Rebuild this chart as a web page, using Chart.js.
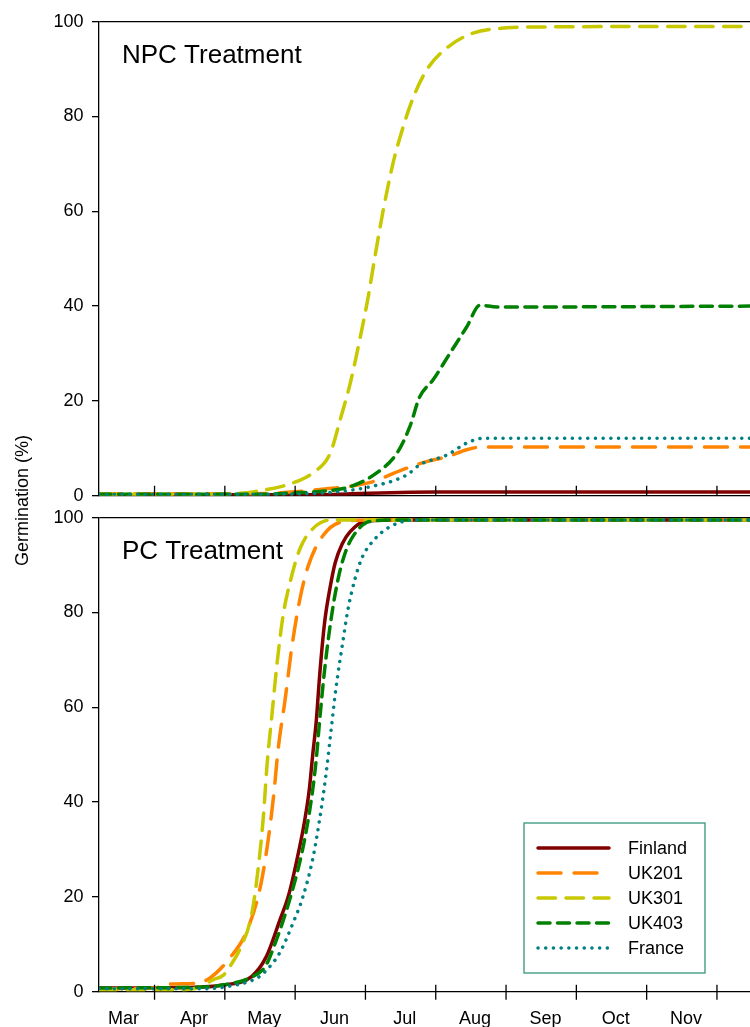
<!DOCTYPE html>
<html><head><meta charset="utf-8">
<script src="https://cdn.jsdelivr.net/npm/chart.js@4.4.1/dist/chart.umd.min.js"></script>
<style>
html,body{margin:0;padding:0;background:#fff;}
#wrap{position:relative;width:750px;height:1027px;overflow:hidden;background:#fff;}
canvas{position:absolute;left:0;}
#ytitle{position:absolute;left:12px;top:434px;height:132px;line-height:20px;writing-mode:vertical-rl;transform:rotate(180deg);font:18px "Liberation Sans",Arial,sans-serif;white-space:nowrap;color:#000;text-align:center;}
</style></head><body>
<div id="wrap">
<canvas id="npc" width="750" height="520" style="top:0;width:750px;height:520px"></canvas>
<canvas id="pc" width="750" height="531" style="top:496px;width:750px;height:531px"></canvas>
<div id="ytitle">Germination (%)</div>
</div>
<script>
// x values are months since 1 March
const monthLabels = ['Mar','Apr','May','Jun','Jul','Aug','Sep','Oct','Nov'];
const monthBoundaries = [1,2,3,4,5,6,7,8,9];
const monthLabelPos = [0.56,1.56,2.56,3.56,4.56,5.56,6.56,7.56,8.56];
const yTicks = [0,20,40,60,80,100];
const seriesNames = ['Finland','UK201','UK301','UK403','France'];

// NPC treatment
const npcFinlandX = [0.21,3.3,3.8,4.5,5.0,9.47];
const npcFinlandY = [0.2,0.2,0.4,0.7,0.8,0.8];
const npcUK201X = [0.21,2.0,2.8,3.35,4.07,4.53,4.87,5.16,5.44,5.67,9.47];
const npcUK201Y = [0.4,0.4,0.6,1.3,2.8,5.5,7.2,8.2,9.7,10.3,10.3];
const npcUK301X = [0.21,1.65,2.22,2.40,2.97,3.25,3.50,3.64,3.78,3.92,4.04,4.13,4.25,4.39,4.52,4.68,4.87,5.16,5.53,6.01,6.48,9.47];
const npcUK301Y = [0.3,0.3,0.5,0.8,2.7,4.8,9.0,16.0,23.5,33.0,42.0,50.0,60.0,70.0,77.0,84.0,89.8,94.5,97.6,98.7,98.9,99.0];
const npcUK403X = [0.21,2.5,3.0,3.35,3.78,4.16,4.45,4.63,4.77,4.96,5.20,5.44,5.63,5.87,9.47];
const npcUK403Y = [0.3,0.3,0.6,0.9,1.9,4.8,9.0,14.5,20.8,24.4,30.0,35.6,40.2,39.8,40.0];
const npcFranceX = [0.21,2.6,3.3,4.07,4.59,4.77,5.16,5.44,5.67,9.47];
const npcFranceY = [0.3,0.3,0.5,1.9,4.4,6.5,8.6,11.1,12.1,12.1];

// PC treatment
const pcFinlandX = [0.21,1.5,1.97,2.38,2.59,2.78,2.91,3.07,3.14,3.20,3.25,3.30,3.35,3.42,3.50,3.57,3.67,3.78,3.99,4.49,9.47];
const pcFinlandY = [0.8,0.9,1.4,3.2,7.4,15.0,20.5,31.0,36.5,42.5,50.0,57.0,67.0,78.0,85.5,90.5,94.5,97.0,99.2,99.5,99.5];
const pcUK201X = [0.21,1.0,1.22,1.60,1.79,2.07,2.31,2.50,2.60,2.69,2.76,2.86,2.95,3.07,3.19,3.40,3.69,4.1,9.47];
const pcUK201Y = [0.6,0.8,1.6,1.8,2.9,7.1,12.7,21.8,30.3,40.8,51.4,61.9,72.4,83.0,90.0,96.3,99.2,99.5,99.5];
const pcUK301X = [0.21,1.2,1.5,1.65,1.83,1.98,2.07,2.22,2.38,2.48,2.55,2.60,2.67,2.74,2.83,2.93,3.07,3.26,3.50,9.47];
const pcUK301Y = [0.4,0.4,0.5,1.0,2.5,3.5,5.3,9.2,16.2,26.7,37.3,47.8,58.4,68.9,79.5,86.5,93.5,97.8,99.5,99.5];
const pcUK403X = [0.21,1.5,1.97,2.38,2.57,2.69,2.93,3.11,3.23,3.30,3.35,3.42,3.51,3.61,3.71,3.82,4.06,4.45,9.47];
const pcUK403Y = [0.8,0.9,1.4,3.1,5.2,9.2,19.8,30.3,40.5,49.0,57.5,68.0,78.5,87.0,92.5,96.0,99.2,99.5,99.5];
const pcFranceX = [0.21,1.6,2.0,2.46,2.57,2.78,2.97,3.11,3.25,3.35,3.44,3.51,3.58,3.67,3.75,3.85,3.95,4.14,4.35,4.68,9.47];
const pcFranceY = [0.6,0.6,1.0,2.9,4.2,8.2,14.5,20.0,28.0,36.5,46.0,55.0,64.0,73.0,80.5,87.0,91.5,95.6,98.1,99.5,99.5];

const FONT = '"Liberation Sans", Arial, sans-serif';
Chart.defaults.font.family = FONT;
Chart.defaults.color = '#000';

const styles = [
  {color:'#800000', dash:[], order:5},
  {color:'#FF8400', dash:[23,13], order:4},
  {color:'#C8C800', dash:[17.5,10.5], order:3},
  {color:'#008000', dash:[12,7.5], order:2},
  {color:'#008080', dash:[0.1,7.6], order:1}
];

function pts(xs, ys){ return xs.map((x,i)=>({x:x, y:ys[i]})); }
function makeDatasets(list){
  return list.map((d,i)=>({
    label: seriesNames[i],
    data: pts(d[0], d[1]),
    borderColor: styles[i].color,
    backgroundColor: styles[i].color,
    borderWidth: 3.5,
    borderDash: styles[i].dash,
    borderCapStyle: 'round',
    borderJoinStyle: 'round',
    pointRadius: 0,
    cubicInterpolationMode: 'monotone',
    fill: false,
    order: styles[i].order
  }));
}

const innerTicks = {
  id:'innerTicks',
  afterDatasetsDraw(chart, args, o){
    const {ctx, chartArea:a, scales:{x}} = chart;
    ctx.save(); ctx.strokeStyle='#000'; ctx.lineWidth=1.3; ctx.setLineDash([]);
    ctx.beginPath();
    monthBoundaries.forEach(v=>{
      const px = x.getPixelForValue(v);
      ctx.moveTo(px, a.bottom - o.up); ctx.lineTo(px, a.bottom + o.down);
    });
    ctx.stroke(); ctx.restore();
  }
};
const panelLabel = {
  id:'panelLabel',
  afterDraw(chart, args, o){
    const {ctx, chartArea:a} = chart;
    ctx.save(); ctx.font = '26px ' + FONT; ctx.fillStyle='#000'; ctx.textBaseline='alphabetic'; ctx.textAlign='left';
    ctx.fillText(o.text, a.left + o.dx, a.top + o.dy);
    ctx.restore();
  }
};
const boxLegend = {
  id:'boxLegend',
  afterDraw(chart, args, o){
    if(!o.show) return;
    const {ctx, chartArea:a} = chart;
    const L = a.left + o.left, T = a.top + o.top;
    ctx.save();
    ctx.fillStyle='#fff'; ctx.fillRect(L,T,o.width,o.height);
    ctx.strokeStyle=o.borderColor; ctx.lineWidth=1.3; ctx.setLineDash([]);
    ctx.strokeRect(L,T,o.width,o.height);
    ctx.font='18px ' + FONT; ctx.textBaseline='middle'; ctx.textAlign='left';
    chart.data.datasets.forEach((ds,i)=>{
      const y = T + o.firstRow + i*o.rowGap;
      ctx.strokeStyle = ds.borderColor; ctx.lineWidth = ds.borderWidth; ctx.lineCap='round';
      ctx.setLineDash(ds.borderDash || []);
      ctx.beginPath(); ctx.moveTo(L+o.lineStart, y); ctx.lineTo(L+o.lineEnd, y); ctx.stroke();
      ctx.setLineDash([]);
      ctx.fillStyle='#000'; ctx.fillText(ds.label, L+o.textX, y+1);
    });
    ctx.restore();
  }
};

function makeChart(id, datasets, title, isBottom){
  return new Chart(document.getElementById(id), {
    type:'line',
    data:{datasets: datasets},
    plugins:[innerTicks, panelLabel, boxLegend],
    options:{
      responsive:false, animation:false, events:[],
      layout:{padding:{top:21.7, bottom: isBottom ? 0 : 24.3, left:0, right:0}},
      scales:{
        x:{
          type:'linear', min:0.21, max:9.47,
          afterBuildTicks: s => { s.ticks = isBottom ? monthLabelPos.map(v=>({value:v})) : []; },
          ticks:{display:isBottom, autoSkip:false, maxRotation:0, minRotation:0, padding:16.5,
                 font:{size:18}, color:'#000',
                 callback:(v)=>{ const i = monthLabelPos.findIndex(p=>Math.abs(p-v)<1e-6); return i>=0 ? monthLabels[i] : ''; }},
          grid:{display:false, drawTicks:false},
          border:{display:true, color:'#000', width:1.3},
          afterFit: s => { s.height = isBottom ? 35.3 : 0; }
        },
        y:{
          min:0, max:100,
          afterBuildTicks: s => { s.ticks = yTicks.map(v=>({value:v})); },
          ticks:{font:{size:18}, color:'#000', padding:8.5},
          grid:{drawOnChartArea:true, drawTicks:true, tickLength:7, tickColor:'#000', lineWidth:1.3,
                color: c => (c.tick && c.tick.value===100) ? '#000' : 'rgba(0,0,0,0)'},
          border:{display:true, color:'#000', width:1.3},
          afterFit: s => { s.width = 99; }
        }
      },
      plugins:{
        legend:{display:false}, tooltip:{enabled:false},
        innerTicks:{up: isBottom ? 7 : 10, down: isBottom ? 8 : 0},
        panelLabel:{text:title, dx:23, dy:41.3},
        boxLegend:{show:isBottom, left:425, top:305.3, width:181, height:150, borderColor:'#35967c',
                   firstRow:25, rowGap:25, lineStart:14, lineEnd:85, textX:104}
      }
    }
  });
}

makeChart('npc', makeDatasets([
  [npcFinlandX, npcFinlandY],[npcUK201X, npcUK201Y],[npcUK301X, npcUK301Y],[npcUK403X, npcUK403Y],[npcFranceX, npcFranceY]
]), 'NPC Treatment', false);
makeChart('pc', makeDatasets([
  [pcFinlandX, pcFinlandY],[pcUK201X, pcUK201Y],[pcUK301X, pcUK301Y],[pcUK403X, pcUK403Y],[pcFranceX, pcFranceY]
]), 'PC Treatment', true);
</script>
</body></html>
